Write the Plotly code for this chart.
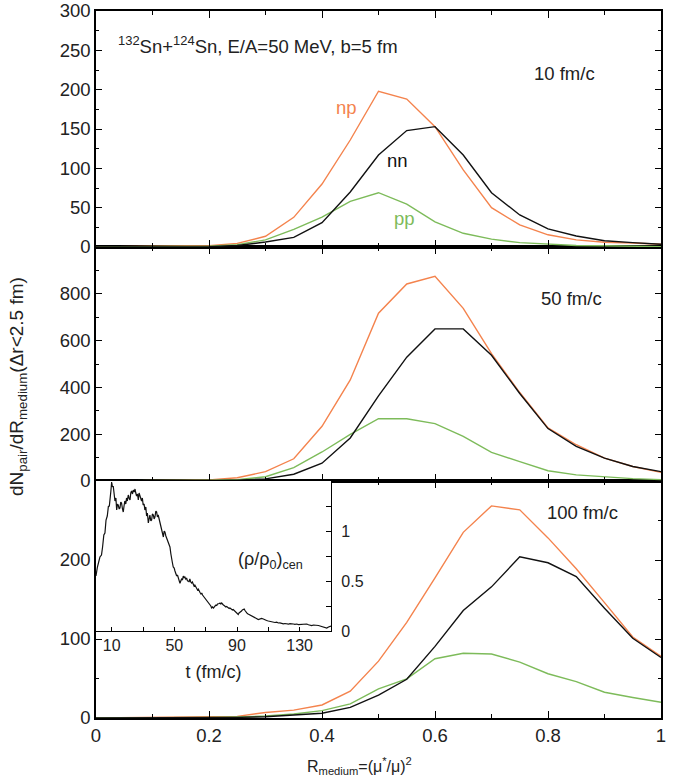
import plotly.graph_objects as go

# ---------------- data ----------------
R = [0.0, 0.05, 0.1, 0.15, 0.2, 0.25, 0.3, 0.35, 0.4, 0.45, 0.5,
     0.55, 0.6, 0.65, 0.7, 0.75, 0.8, 0.85, 0.9, 0.95, 1.0]

np_10 = [0.2, 0.3, 0.4, 0.5, 1.5, 4.6, 13.6, 37.7, 80, 136, 198, 188, 153, 98, 50, 28, 15.5, 9, 6, 5, 3.5]
nn_10 = [0, 0, 0.1, 0.2, 0.5, 2, 6.3, 12.3, 31, 70, 117, 148, 153, 117, 69, 40.7, 23, 14, 8, 5.5, 3.5]
pp_10 = [0, 0.1, 0.2, 0.3, 1, 3, 9, 22.5, 38, 58, 69, 54.6, 32, 17.4, 10, 5.5, 3.5, 2, 1.5, 1, 0.5]

np_50 = [0, 0, 1, 2, 5, 14, 40, 95, 234, 432, 717, 842, 875, 738, 544, 378, 227, 155, 98, 62, 37]
nn_50 = [0, 0, 0, 0.5, 1, 3, 9, 29, 76, 184, 364, 529, 650, 650, 537, 374, 224, 148, 98, 62, 40]
pp_50 = [0, 0, 0.5, 1, 3, 6, 18, 57, 124, 199, 266, 266, 245, 191, 122, 83, 44, 26, 18, 10, 6]

np_100 = [0, 0.3, 0.6, 0.8, 1, 2, 7, 10, 16.5, 34, 72, 121, 177.5, 235, 268.5, 263.5, 228, 189, 146, 102.5, 78]
nn_100 = [0, 0, 0.1, 0.2, 0.3, 0.8, 1.5, 3.5, 6, 13.5, 29, 49, 90.6, 136, 166, 204, 196.5, 179, 139, 101, 76.6]
pp_100 = [0, 0, 0.2, 0.4, 0.6, 1.2, 2.5, 5, 9.3, 17.8, 37, 49.5, 75, 82, 81, 70.8, 56, 46, 32.6, 26, 20]

# inset: central density vs time
t_fm = [0, 0.9, 2.5, 3.5, 4.2, 5, 5.7, 6.4, 7.2, 7.9, 8.5, 8.9, 9.5, 10, 10.5, 11, 11.6, 12.1, 12.7,
        13.2, 13.7, 14.2, 14.8, 15.3, 15.8, 16.3, 16.9, 17.4, 17.9, 18.4, 19, 19.5, 20, 20.6, 21.1,
        21.7, 22.2, 22.7, 23.3, 23.8, 24.4, 24.9, 25.4, 25.9, 26.5, 27, 27.5, 28, 28.6, 29.1, 29.6,
        30.1, 30.7, 31.2, 31.8, 32.3, 32.8, 33.4, 33.9, 34.4, 35, 35.5, 36, 36.6, 37.1, 37.6, 38.2,
        38.7, 39.2, 39.7, 40.3, 40.8, 41.4, 41.9, 42.5, 43, 43.5, 44, 44.6, 45.1, 45.6, 46.1, 46.7,
        47.2, 47.8, 48.3, 48.8, 49.3, 49.9, 50.4, 51, 51.5, 52, 52.5, 53, 53.6, 54.1, 54.6, 55.2,
        55.7, 56.2, 56.7, 57.3, 57.8, 58.4, 58.9, 59.4, 59.9, 60.5, 61, 61.5, 62, 62.6, 63.1, 63.7,
        64.2, 64.8, 65.3, 65.9, 66.4, 67, 67.5, 68, 68.5, 69.1, 69.6, 70.1, 70.6, 71.2, 71.7, 72.2,
        72.7, 73.3, 73.8, 74.4, 75, 75.5, 76, 76.6, 77.1, 77.6, 78.1, 78.7, 79.2, 79.7, 80.2, 80.8,
        81.3, 81.8, 82.3, 82.9, 83.4, 83.9, 84.5, 85, 85.5, 86, 86.6, 87.1, 87.6, 88.2, 88.7, 89.2,
        89.7, 90.3, 90.8, 91.3, 91.8, 92.4, 92.9, 93.4, 94, 94.6, 95.1, 95.6, 96, 96.6, 97.1, 97.6,
        98.2, 98.7, 99.2, 99.8, 100.3, 101.3, 102.4, 103.6, 104.6, 105.7, 106.8, 107.8, 108.9, 110,
        111, 112.1, 113.2, 114.2, 115.3, 116.4, 117.4, 118.5, 119.6, 120.6, 121.7, 122.8, 123.8,
        124.9, 126, 127, 128.1, 129.2, 130.2, 131.3, 132.4, 133.4, 134.5, 135.6, 136.6, 137.7, 138.8,
        139.8, 140.9, 142, 143, 144.1, 145.2, 146.2, 147.3, 148.4, 149.4, 150]
rho_cen = [0.55, 0.64, 0.74, 0.76, 0.84, 0.96, 0.98, 1.11, 1.15, 1.245, 1.25, 1.36, 1.40, 1.49, 1.44,
           1.45, 1.36, 1.30, 1.33, 1.21, 1.27, 1.26, 1.22, 1.23, 1.29, 1.28, 1.22, 1.19, 1.25, 1.30,
           1.27, 1.33, 1.30, 1.36, 1.33, 1.31, 1.38, 1.40, 1.37, 1.41, 1.39, 1.42, 1.38, 1.35, 1.37,
           1.31, 1.38, 1.36, 1.32, 1.30, 1.33, 1.26, 1.27, 1.21, 1.24, 1.15, 1.18, 1.08, 1.12, 1.16,
           1.10, 1.11, 1.17, 1.16, 1.12, 1.14, 1.20, 1.19, 1.14, 1.16, 1.12, 1.08, 1.06, 1.03, 0.98,
           0.94, 1.00, 0.99, 0.95, 0.93, 0.90, 0.89, 0.86, 0.84, 0.77, 0.705, 0.68, 0.64, 0.63, 0.60,
           0.57, 0.55, 0.56, 0.53, 0.50, 0.476, 0.50, 0.52, 0.51, 0.55, 0.53, 0.54, 0.52, 0.53, 0.50,
           0.50, 0.49, 0.52, 0.49, 0.48, 0.49, 0.47, 0.45, 0.46, 0.44, 0.43, 0.41, 0.42, 0.39, 0.385,
           0.37, 0.38, 0.36, 0.35, 0.33, 0.32, 0.31, 0.30, 0.29, 0.28, 0.27, 0.265, 0.25, 0.23, 0.24,
           0.23, 0.25, 0.25, 0.26, 0.255, 0.27, 0.27, 0.275, 0.28, 0.27, 0.28, 0.265, 0.26, 0.255,
           0.25, 0.24, 0.245, 0.235, 0.23, 0.225, 0.23, 0.22, 0.22, 0.21, 0.215, 0.205, 0.20, 0.19,
           0.18, 0.17, 0.165, 0.18, 0.185, 0.19, 0.20, 0.21, 0.215, 0.22, 0.205, 0.19, 0.18, 0.175,
           0.17, 0.165, 0.16, 0.155, 0.15, 0.145, 0.14, 0.13, 0.125, 0.115, 0.12, 0.125, 0.12, 0.11,
           0.105, 0.10, 0.095, 0.088, 0.09, 0.085, 0.088, 0.08, 0.082, 0.075, 0.072, 0.075, 0.07,
           0.068, 0.074, 0.075, 0.07, 0.066, 0.07, 0.064, 0.066, 0.063, 0.068, 0.065, 0.07, 0.062,
           0.058, 0.054, 0.06, 0.058, 0.063, 0.055, 0.05, 0.043, 0.04, 0.035, 0.03, 0.04, 0.048, 0.05]

x_ticks = [0, 0.2, 0.4, 0.6, 0.8, 1.0]
x_ticktext = ["0", "0.2", "0.4", "0.6", "0.8", "1"]

ORANGE = "#F4834D"
GREEN = "#7DBB5A"
BLACK = "#111111"
FONT = "Liberation Sans, Arial, Helvetica, sans-serif"
TXT = "#222"

fig = go.Figure()

panels = [("x", "y", np_100, nn_100, pp_100),
          ("x2", "y2", np_50, nn_50, pp_50),
          ("x3", "y3", np_10, nn_10, pp_10)]
for xa, ya, a, b, c in panels:
    fig.add_trace(go.Scatter(x=R, y=a, mode="lines", line=dict(color=ORANGE, width=1.4),
                             xaxis=xa, yaxis=ya, showlegend=False))
    fig.add_trace(go.Scatter(x=R, y=c, mode="lines", line=dict(color=GREEN, width=1.4),
                             xaxis=xa, yaxis=ya, showlegend=False))
    fig.add_trace(go.Scatter(x=R, y=b, mode="lines", line=dict(color=BLACK, width=1.4),
                             xaxis=xa, yaxis=ya, showlegend=False))

fig.add_trace(go.Scatter(x=t_fm, y=rho_cen, mode="lines", line=dict(color=BLACK, width=1.2),
                         xaxis="x4", yaxis="y4", showlegend=False))

b3 = (718 - 481) / 707.0
b2 = (718 - 247) / 707.0

common_x = dict(range=[0, 1], showline=True, linecolor="black", linewidth=1.6, mirror="ticks",
                ticks="inside", ticklen=7, tickwidth=1.3, tickcolor="black", automargin=False,
                tickvals=x_ticks, ticktext=x_ticktext, showgrid=False, zeroline=False,
                minor=dict(tick0=0, dtick=0.1, ticks="inside", ticklen=4, tickwidth=1.2, tickcolor="black"),
                tickfont=dict(family=FONT, size=18.5, color=TXT))
common_y = dict(showline=True, linecolor="black", linewidth=1.6, mirror="ticks", automargin=False,
                ticks="inside", ticklen=6, tickwidth=1.3, tickcolor="black",
                showgrid=False, zeroline=False, tickfont=dict(family=FONT, size=18.5, color=TXT))

fig.update_layout(
    width=679, height=784,
    margin=dict(l=96, r=18, t=11, b=66, autoexpand=False),
    paper_bgcolor="white", plot_bgcolor="white",
    xaxis=dict(common_x, anchor="y", domain=[0, 1]),
    xaxis2=dict(common_x, anchor="y2", domain=[0, 1], showticklabels=False, matches="x"),
    xaxis3=dict(common_x, anchor="y3", domain=[0, 1], showticklabels=False, matches="x"),
    yaxis=dict(common_y, anchor="x", domain=[0, b3], range=[0, 300], tickvals=[0, 100, 200],
               minor=dict(tick0=0, dtick=50, ticks="inside", ticklen=3, tickwidth=1.2, tickcolor="black")),
    yaxis2=dict(common_y, anchor="x2", domain=[b3, b2], range=[0, 1000], tickvals=[0, 200, 400, 600, 800],
                minor=dict(tick0=0, dtick=100, ticks="inside", ticklen=3, tickwidth=1.2, tickcolor="black")),
    yaxis3=dict(common_y, anchor="x3", domain=[b2, 1], range=[0, 300], tickvals=[0, 50, 100, 150, 200, 250, 300],
                minor=dict(tick0=0, dtick=25, ticks="inside", ticklen=3, tickwidth=1.2, tickcolor="black")),
    xaxis4=dict(anchor="y4", domain=[0, (331 - 96) / 565.0], range=[0, 150], automargin=False,
                showline=True, linecolor="black", linewidth=1.3, mirror=True,
                ticks="inside", ticklen=4, tickwidth=1.2, tickcolor="black",
                tickvals=[10, 50, 90, 130], showgrid=False, zeroline=False,
                minor=dict(tick0=10, dtick=20, ticks="inside", ticklen=4, tickwidth=1.2, tickcolor="black"),
                tickfont=dict(family=FONT, size=16, color=TXT),
                title=dict(text="t (fm/c)", font=dict(family=FONT, size=18, color=TXT), standoff=12)),
    yaxis4=dict(anchor="x4", domain=[(718 - 631) / 707.0, b3], range=[0, 1.5], side="right",
                showline=True, linecolor="black", linewidth=1.3, mirror=True, automargin=False,
                ticks="inside", ticklen=5, tickwidth=1.2, tickcolor="black",
                tickvals=[0, 0.5, 1], showgrid=False, zeroline=False,
                minor=dict(tick0=0, dtick=0.25, ticks="inside", ticklen=5, tickwidth=1.2, tickcolor="black"),
                tickfont=dict(family=FONT, size=16, color=TXT), ticklabelstandoff=6),
)

ann = []
def A(text, x, y, xref, yref, size=18, color=TXT, xanchor="center", yanchor="middle", angle=0):
    ann.append(dict(text=text, x=x, y=y, xref=xref, yref=yref, showarrow=False,
                    font=dict(family=FONT, size=size, color=color), xanchor=xanchor,
                    yanchor=yanchor, textangle=angle))

A("<sup>132</sup>Sn+<sup>124</sup>Sn, E/A=50 MeV, b=5 fm", 0.036, 257, "x3", "y3", size=18.5, xanchor="left")
A("10 fm/c", 0.830, 220, "x3", "y3", size=18.5)
A("np", 0.4425, 177, "x3", "y3", size=18.5, color=ORANGE)
A("nn", 0.533, 110, "x3", "y3", size=18.5, color=BLACK)
A("pp", 0.546, 36, "x3", "y3", size=18.5, color=GREEN)
A("50 fm/c", 0.841, 778, "x2", "y2", size=18.5)
A("100 fm/c", 0.861, 260, "x", "y", size=18.5)
A("(ρ/ρ<sub>0</sub>)<sub>cen</sub>", 0.308, 200, "x", "y", size=18)
A("dN<sub>pair</sub>/dR<sub>medium</sub>(Δr<2.5 fm)", -0.138, (718 - 387) / 707.0, "paper", "paper",
  size=19, angle=-90)
A("R<sub>medium</sub>=(μ<sup>*</sup>/μ)<sup>2</sup>", (359 - 96) / 565.0, (718 - 766) / 707.0, "paper", "paper",
  size=16)
fig.update_layout(annotations=ann)

fig.write_html("out.html")
